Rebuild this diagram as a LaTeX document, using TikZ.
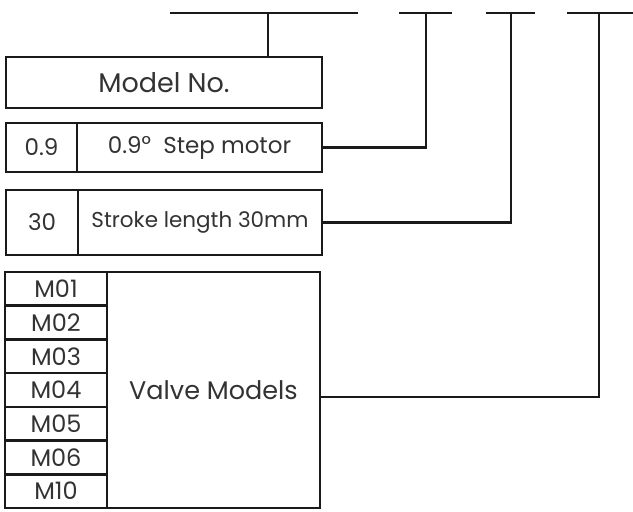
\documentclass[tikz,border=0pt]{standalone}
\usepackage{fontspec}
\setmainfont{Poppins}
\usepackage{tikz}
\usetikzlibrary{positioning,calc}
\definecolor{inkline}{HTML}{1A1A1A}
\definecolor{inktext}{HTML}{333333}
\tikzset{
  cell/.style={draw=inkline, line width=2.6pt, inner sep=0pt, align=center, text=inktext, font=\fontsize{23}{26}\selectfont},
  rowcell/.style={cell, minimum width=102pt, minimum height=33.7pt, font=\fontsize{24}{26}\selectfont},
  wire/.style={draw=inkline, line width=2.6pt}
}
\begin{document}
\begin{tikzpicture}[x=1pt, y=-1pt]
  \useasboundingbox (0,0) rectangle (633,512);
  % code boxes
  \node[cell, minimum width=316pt, minimum height=51pt, font=\fontsize{27}{30}\selectfont] (model) at (164,82.5) {Model No.};
  \node[cell, minimum width=71pt, minimum height=49pt] (stepcode) at (41.5,147.5) {0.9};
  \node[cell, minimum width=245pt, minimum height=49pt] (step) at (199.5,147.5) {0.9\raisebox{1pt}{°} ~Step motor};
  \node[cell, minimum width=72pt, minimum height=65pt] (strokecode) at (42,222.5) {30};
  \node[cell, minimum width=244pt, minimum height=65pt, font=\fontsize{21.5}{24}\selectfont] (stroke) at (200,222.5) {Stroke length 30mm};
  \node[cell, minimum width=213pt, minimum height=236pt, font=\fontsize{25.5}{28}\selectfont] (valve) at (213.5,390) {Valve Models};
  \foreach \m [count=\i] in {M01,M02,M03,M04,M05,M06,M10}
    \node[rowcell] (valve\i) at (56,{272+33.7*(\i-0.5)}) {\m};

  % top bars
  \coordinate (t1) at (268,13);
  \coordinate (t2) at (426,13);
  \coordinate (t3) at (511,13);
  \coordinate (t4) at (599,13);
  \draw[wire] (170,13) -- (358,13);
  \draw[wire] (399,13) -- (452,13);
  \draw[wire] (486,13) -- (535,13);
  \draw[wire] (567,13) -- (633,13);

  % connectors
  \draw[wire] (model.north -| t1) -- (t1);
  \draw[wire] (step.east) -| (t2);
  \draw[wire] (stroke.east) -| (t3);
  \draw[wire] ($(valve.east)+(0,7)$) -| (t4);
\end{tikzpicture}
\end{document}
